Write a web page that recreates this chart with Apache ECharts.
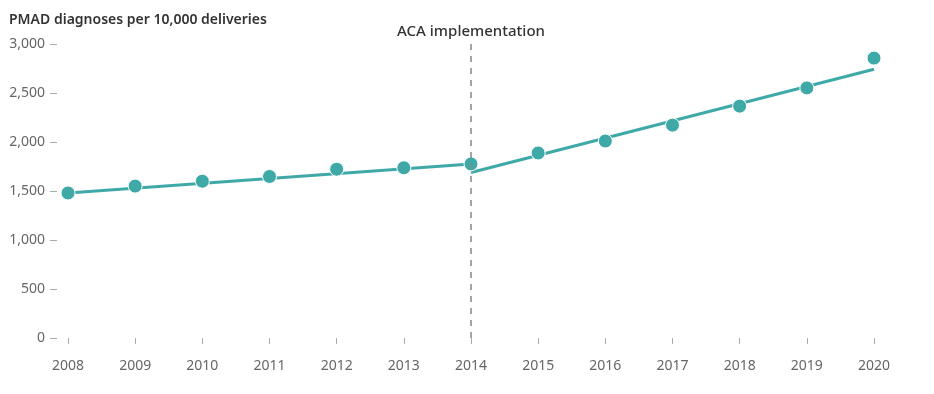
<!DOCTYPE html>
<html>
<head>
<meta charset="utf-8">
<script src="https://cdn.jsdelivr.net/npm/echarts@6/dist/echarts.min.js"></script>
<style>html,body{margin:0;padding:0;background:#fff}#c{width:934px;height:394px}</style>
</head>
<body>
<div id="c"></div>
<script>
const years = [2008, 2009, 2010, 2011, 2012, 2013, 2014, 2015, 2016, 2017, 2018, 2019, 2020];
const observed = [1480, 1550, 1600, 1648, 1722, 1737, 1776, 1888, 2010, 2172, 2366, 2552, 2856];
const trendPreYears = [2008, 2014];
const trendPre = [1480, 1776];
const trendPostYears = [2014, 2020];
const trendPost = [1688, 2742];
const yTicks = [0, 500, 1000, 1500, 2000, 2500, 3000];
const policyYear = 2014;
const policyLabel = 'ACA implementation';
const yTitle = 'PMAD diagnoses per 10,000 deliveries';

const teal = '#3fa9a8';
const font = 'Noto Sans';
const chart = echarts.init(document.getElementById('c'), null, {renderer: 'canvas'});
chart.setOption({
  animation: false,
  textStyle: {fontFamily: font},
  title: {
    text: yTitle, left: 4, top: 8,
    textStyle: {fontFamily: font, fontSize: 14, fontWeight: 600, color: '#333'}
  },
  grid: {left: 68, right: 60, top: 44, bottom: 56},
  xAxis: {
    type: 'value', min: years[0], max: years[years.length - 1], interval: 1,
    offset: 9,
    axisLine: {show: false},
    axisTick: {show: true, length: 6, lineStyle: {color: '#aaa', width: 1}},
    splitLine: {show: false},
    axisLabel: {formatter: v => String(v), color: '#666', fontSize: 14, margin: 12, fontFamily: font}
  },
  yAxis: {
    type: 'value', min: yTicks[0], max: yTicks[yTicks.length - 1], interval: 500,
    offset: 11,
    axisLine: {show: false},
    axisTick: {show: true, length: 7, lineStyle: {color: '#aaa', width: 1}},
    splitLine: {show: false},
    axisLabel: {formatter: v => v.toLocaleString('en-US'), color: '#666', fontSize: 14, margin: 12, fontFamily: font}
  },
  series: [
    {
      type: 'line', data: trendPreYears.map((y, i) => [y, trendPre[i]]),
      symbol: 'none', lineStyle: {color: teal, width: 3}, z: 2
    },
    {
      type: 'line', data: trendPostYears.map((y, i) => [y, trendPost[i]]),
      symbol: 'none', lineStyle: {color: teal, width: 3}, z: 2
    },
    {
      type: 'scatter', data: years.map((y, i) => [y, observed[i]]),
      symbolSize: 14, z: 3,
      itemStyle: {color: teal, borderColor: '#fff', borderWidth: 1, opacity: 1},
      markLine: {
        silent: true, symbol: 'none',
        lineStyle: {color: '#888', type: [6, 6], width: 1.5},
        label: {
          show: true, position: 'end', formatter: policyLabel, distance: 5,
          color: '#333', fontSize: 15, fontWeight: 500, fontFamily: font
        },
        data: [{xAxis: policyYear}]
      }
    }
  ]
});
</script>
</body>
</html>
